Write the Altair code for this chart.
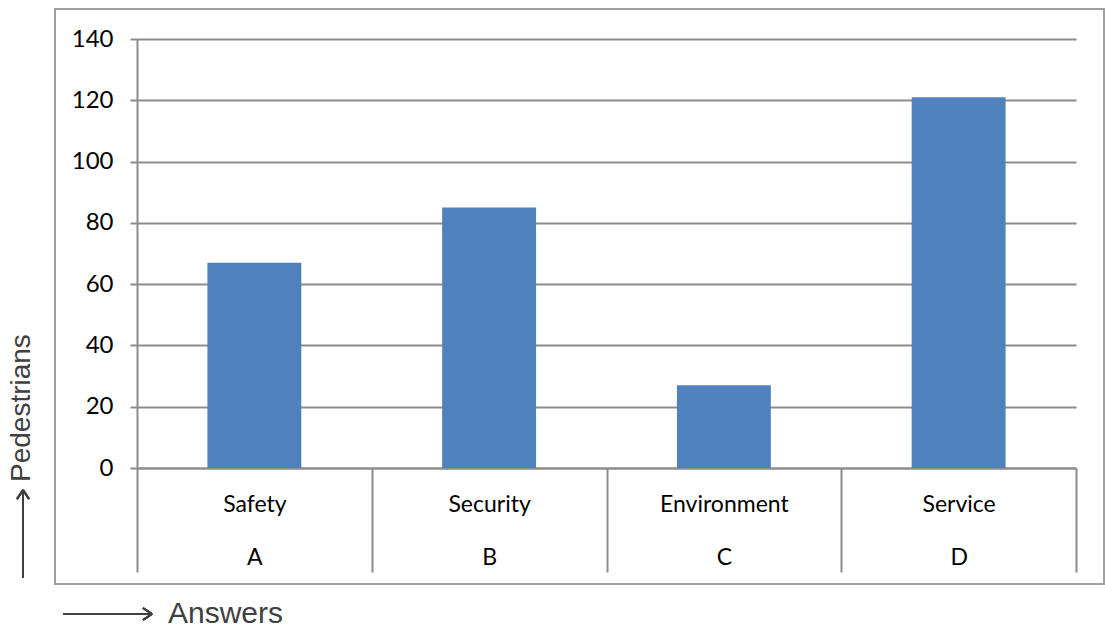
import altair as alt
import pandas as pd

# Survey answers and how many pedestrians gave each
answers = ["Safety", "Security", "Environment", "Service"]
codes = ["A", "B", "C", "D"]
pedestrians = [67, 85, 27, 121]
y_ticks = [0, 20, 40, 60, 80, 100, 120, 140]

df = pd.DataFrame({"answer": answers, "code": codes, "count": pedestrians})

GRID = "#8c8c8c"
BAR = "#4f81bd"
TICK_FONT = "Lato"
TITLE_FONT = "Liberation Sans"

W, H = 939, 429

# two-line category labels: answer name, then its letter code
names_js = "[" + ",".join(f"'{a}'" for a in answers) + "]"
codes_js = "[" + ",".join(f"'{c}'" for c in codes) + "]"
label_expr = f"[datum.label, {codes_js}[indexof({names_js}, datum.label)]]"

x_enc = alt.X(
    "answer:N",
    sort=answers,
    scale=alt.Scale(paddingInner=0, paddingOuter=0),
    axis=alt.Axis(
        title=None,
        labelExpr=label_expr,
        labelFont=TICK_FONT,
        labelFontSize=23,
        labelColor="black",
        labelLineHeight=53,
        labelBaseline="top",
        labelPadding=-79,
        labelAngle=0,
        tickBand="extent",
        tickSize=104,
        tickColor=GRID,
        tickWidth=2,
        domainColor=GRID,
        domainWidth=2,
    ),
)

y_enc = alt.Y(
    "count:Q",
    scale=alt.Scale(domain=[0, 140], nice=False),
    axis=alt.Axis(
        title=None,
        values=y_ticks,
        labelFont=TICK_FONT,
        labelFontSize=24,
        labelColor="black",
        labelPadding=17,
        tickSize=7,
        tickColor=GRID,
        tickWidth=2,
        domainColor=GRID,
        domainWidth=2,
        grid=True,
        gridColor=GRID,
        gridWidth=2,
    ),
)

bars = alt.Chart(df).mark_bar(
    color=BAR, width=alt.RelativeBandSize(0.4)
).encode(x=x_enc, y=y_enc)

# outer frame around the chart area
frame = alt.Chart(df).mark_rect(
    fill=None, stroke="#a0a0a0", strokeWidth=2
).encode(
    x=alt.value(-82), x2=alt.value(967), y=alt.value(-30), y2=alt.value(545)
)

# arrow next to the horizontal caption
arrow_style = dict(color="#404040", strokeWidth=2)
x_arrow = alt.layer(
    alt.Chart(df).mark_rule(**arrow_style).encode(
        x=alt.value(-74), x2=alt.value(15), y=alt.value(575), y2=alt.value(575)),
    alt.Chart(df).mark_rule(**arrow_style).encode(
        x=alt.value(15), x2=alt.value(6), y=alt.value(575), y2=alt.value(569)),
    alt.Chart(df).mark_rule(**arrow_style).encode(
        x=alt.value(15), x2=alt.value(6), y=alt.value(575), y2=alt.value(581)),
)
# arrow under the vertical caption
y_arrow = alt.layer(
    alt.Chart(df).mark_rule(**arrow_style).encode(
        x=alt.value(-114), x2=alt.value(-114), y=alt.value(539), y2=alt.value(451)),
    alt.Chart(df).mark_rule(**arrow_style).encode(
        x=alt.value(-114), x2=alt.value(-120), y=alt.value(451), y2=alt.value(460)),
    alt.Chart(df).mark_rule(**arrow_style).encode(
        x=alt.value(-114), x2=alt.value(-108), y=alt.value(451), y2=alt.value(460)),
)

x_title = alt.Chart(pd.DataFrame({"t": ["Answers"]})).mark_text(
    font=TITLE_FONT, fontSize=30, color="#404040", align="left", baseline="middle"
).encode(x=alt.value(31), y=alt.value(575), text="t:N")

y_title = alt.Chart(pd.DataFrame({"t": ["Pedestrians"]})).mark_text(
    font=TITLE_FONT, fontSize=28, color="#404040", align="left",
    baseline="middle", angle=270
).encode(x=alt.value(-115), y=alt.value(443), text="t:N")

chart = alt.layer(
    frame, bars, x_arrow, y_arrow, x_title, y_title
).properties(
    width=W,
    height=H,
    autosize=alt.AutoSizeParams(type="none"),
    padding={"left": 137, "top": 39, "right": 29, "bottom": 164},
    background="white",
).configure_view(strokeWidth=0)

chart.save("out.html", embed_options={"renderer": "svg", "actions": False})
